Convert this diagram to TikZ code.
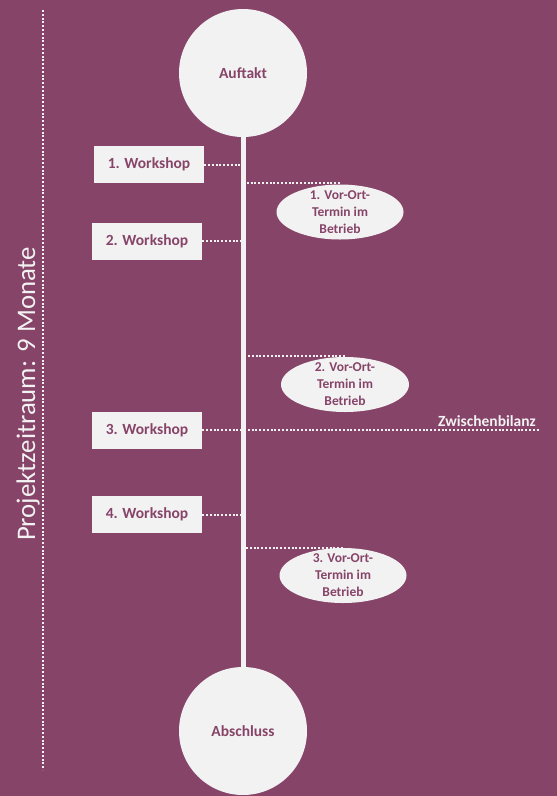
\documentclass[tikz,border=0pt]{standalone}
\usepackage{fontspec}
\setmainfont{Carlito}
\definecolor{lila}{RGB}{135,68,105}
\definecolor{hell}{RGB}{242,242,242}
\begin{document}
\begin{tikzpicture}[x=1pt,y=-1pt,line join=round,
	kreis/.style={circle,fill=hell,minimum size=128pt,inner sep=0pt,text=lila,font=\bfseries\fontsize{15.5}{18}\selectfont},
	kasten/.style={rectangle,fill=hell,minimum width=110pt,minimum height=37pt,inner sep=0pt,text=lila,font=\bfseries\fontsize{15.5}{18}\selectfont},
	termin/.style={align=center,inner sep=0pt,text=lila,font=\bfseries\fontsize{13.5}{17}\selectfont},
	punkte/.style={hell,line width=2pt,dash pattern=on 2pt off 1.8pt}]
	\fill[lila] (0,0) rectangle (557,796);
	\useasboundingbox (0,0) rectangle (557,796);
	%Projektzeitraum
	\path (43,10) coordinate (Z1) (43,770) coordinate (Z2);
	\draw[punkte] (Z1)--(Z2);
	\node[rotate=90,text=hell,font=\fontsize{26.8}{30}\selectfont] (zeit) at (28,394) {Projektzeitraum: 9 Monate};
	%Zeitstrahl
	\node[kreis] (auftakt) at (243,73) {Auftakt};
	\node[kreis] (abschluss) at (243,731) {Abschluss};
	\draw[hell,line width=5pt] (auftakt.south)--(abschluss.north);
	%Workshops
	\node[kasten] (ws1) at (149,164.5) {1. Workshop};
	\node[kasten] (ws2) at (147,241) {2. Workshop};
	\node[kasten] (ws3) at (147,430) {3. Workshop};
	\node[kasten] (ws4) at (147,514.5) {4. Workshop};
	\draw[punkte] (ws1.east)--(ws1.east-|auftakt);
	\draw[punkte] (ws2.east)--(ws2.east-|auftakt);
	\draw[punkte] (ws4.east)--(ws4.east-|auftakt);
	%Zwischenbilanz
	\node[text=hell,font=\bfseries\fontsize{15.5}{18}\selectfont] (zb) at (487,421) {Zwischenbilanz};
	\path (540,430) coordinate (E);
	\draw[punkte] (ws3.east)--(E);
	%Vor-Ort-Termine
	\path (340,212) coordinate (V1) (345,384.5) coordinate (V2) (343,575.5) coordinate (V3);
	\fill[hell] (V1) ellipse [x radius=63.5,y radius=27.5];
	\fill[hell] (V2) ellipse [x radius=64,y radius=27.5];
	\fill[hell] (V3) ellipse [x radius=63.5,y radius=27.5];
	\node[termin] (vo1) at (V1) {1. Vor-Ort-\\Termin im\\Betrieb};
	\node[termin] (vo2) at (V2) {2. Vor-Ort-\\Termin im\\Betrieb};
	\node[termin] (vo3) at (V3) {3. Vor-Ort-\\Termin im\\Betrieb};
	\path (243,183) coordinate (M1) (248,356) coordinate (M2) (246,548) coordinate (M3);
	\draw[punkte] (M1)--(M1-|vo1);
	\draw[punkte] (M2)--(M2-|vo2);
	\draw[punkte] (M3)--(M3-|vo3);
\end{tikzpicture}
\end{document}
